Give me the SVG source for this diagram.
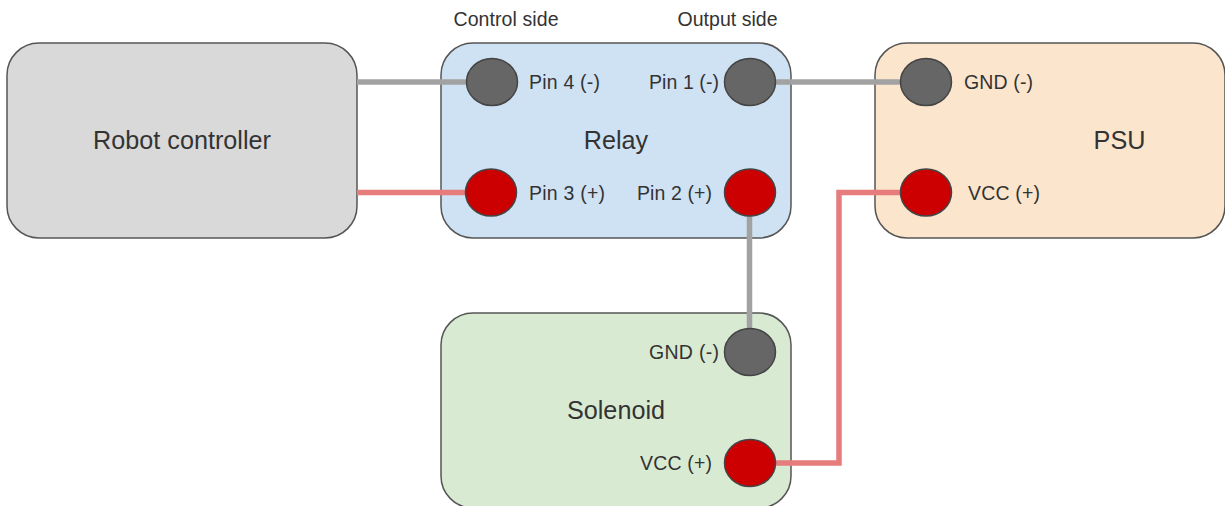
<svg xmlns="http://www.w3.org/2000/svg" width="1225" height="506" viewBox="0 0 1225 506">
<style>
text{font-family:"Liberation Sans",Arial,sans-serif;fill:#333}
.s{font-size:19.500px}
.l{font-size:25.200px}
.box{stroke:#555;stroke-width:1.500}
.g{fill:#666;stroke:#444;stroke-width:1.500}
.r{fill:#c00;stroke:#444;stroke-width:1.500}
.cg{fill:none;stroke:#a2a2a2;stroke-width:5.500}
.cr{fill:none;stroke:#e67c7c;stroke-width:5.500}
</style>
<rect width="1225" height="506" fill="#fff"/>
<g id="robot"><rect class="box" x="7" y="43" width="350" height="195" rx="32" fill="#d9d9d9"/><text class="l" x="182" y="149" text-anchor="middle">Robot controller</text></g>
<g id="relay"><rect class="box" x="441" y="43" width="350" height="195" rx="32" fill="#cfe2f3"/><text class="l" x="616" y="149" text-anchor="middle">Relay</text></g>
<g id="psu"><rect class="box" x="875" y="43" width="350" height="195" rx="32" fill="#fce5cd"/><text class="l" x="1119.500" y="149" text-anchor="middle">PSU</text></g>
<g id="solenoid"><rect class="box" x="441" y="313" width="350" height="195" rx="32" fill="#d9ead3"/><text class="l" x="616" y="419" text-anchor="middle">Solenoid</text></g>
<g id="connectors">
<path class="cg" d="M357 82H491"/>
<path class="cr" d="M357 192.500H491"/>
<path class="cg" d="M750 82H926"/>
<path class="cg" d="M749.500 192.500V352"/>
<path class="cr" d="M750 463H839V192.500H926"/>
</g>
<g id="pin4"><ellipse class="g" cx="492" cy="82" rx="25.500" ry="23.500"/><text class="s" x="529" y="89" textLength="71">Pin 4 (-)</text></g>
<g id="pin3"><ellipse class="r" cx="491" cy="192.500" rx="25.500" ry="23.500"/><text class="s" x="529" y="199.500" textLength="76">Pin 3 (+)</text></g>
<g id="pin1"><ellipse class="g" cx="750" cy="82" rx="25.500" ry="23.500"/><text class="s" x="649" y="89" textLength="70">Pin 1 (-)</text></g>
<g id="pin2"><ellipse class="r" cx="750" cy="192.500" rx="25.500" ry="23.500"/><text class="s" x="637" y="199.500" textLength="75">Pin 2 (+)</text></g>
<g id="psu-gnd"><ellipse class="g" cx="926" cy="82" rx="25.500" ry="23.500"/><text class="s" x="964" y="89" textLength="69">GND (-)</text></g>
<g id="psu-vcc"><ellipse class="r" cx="926" cy="192.500" rx="25.500" ry="23.500"/><text class="s" x="968" y="199.500" textLength="72">VCC (+)</text></g>
<g id="sol-gnd"><ellipse class="g" cx="750" cy="352" rx="25.500" ry="23.500"/><text class="s" x="649" y="359" textLength="70">GND (-)</text></g>
<g id="sol-vcc"><ellipse class="r" cx="750" cy="463" rx="25.500" ry="23.500"/><text class="s" x="640" y="470" textLength="72">VCC (+)</text></g>
<g id="side-labels"><text class="s" x="453.500" y="25.500" textLength="105">Control side</text><text class="s" x="677.500" y="25.500" textLength="100">Output side</text></g>
</svg>
